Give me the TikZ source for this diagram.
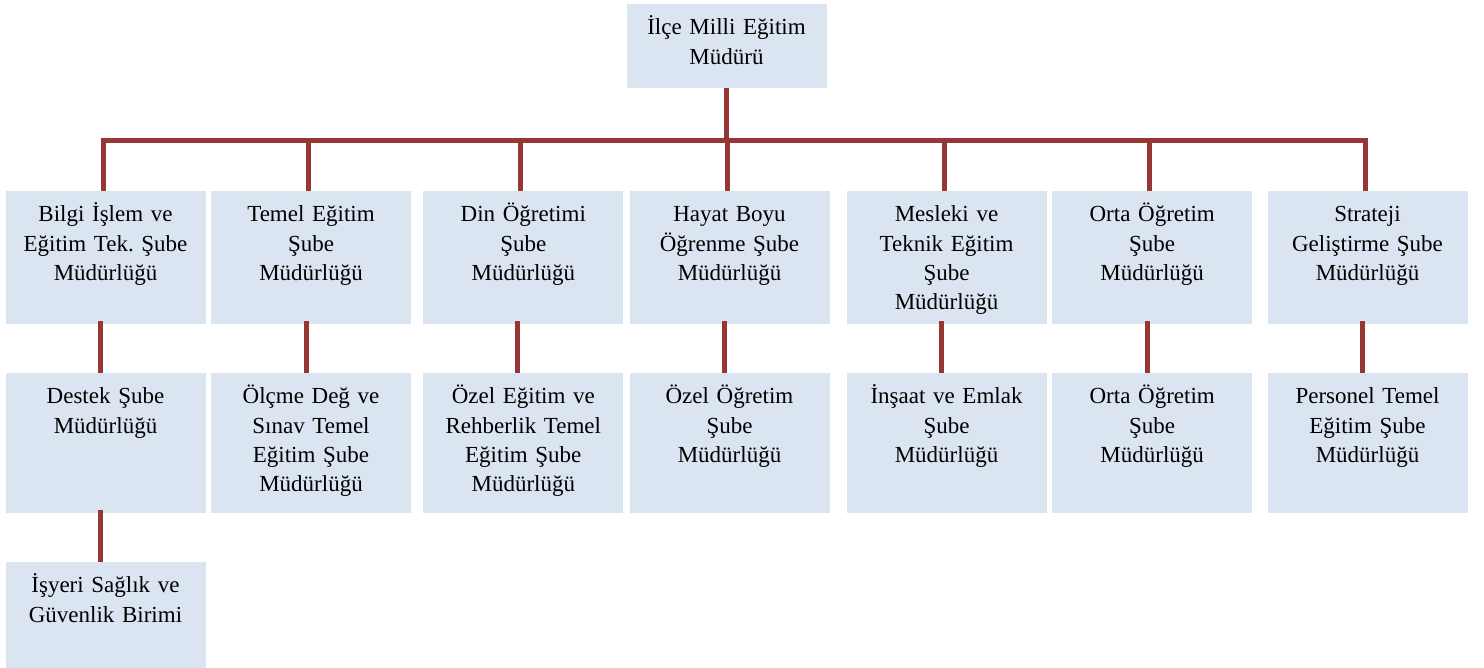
\documentclass[tikz,border=0pt]{standalone}
\usepackage{fontspec}
\setmainfont{Liberation Serif}
\usepackage{xcolor}
\definecolor{boxfill}{HTML}{DBE5F1}
\definecolor{linkred}{HTML}{953735}
\begin{document}
\begin{tikzpicture}[x=0.5pt,y=-0.5pt,
  box/.style={fill=boxfill, minimum width=100pt, inner sep=0pt},
  txt/.style={anchor=north, text width=98pt, align=center, inner sep=0pt, yshift=-5.2pt,
    font=\fontsize{11.5}{14.6}\selectfont\frenchspacing, execute at begin node=\strut},
  link/.style={draw=linkred, line width=2.5pt}]
\useasboundingbox (0,0) rectangle (1484,668);

% boxes
\node [box, minimum height=42pt] (mudur) at (726.5,46) {};
\node [box, minimum height=66.5pt] (bilgi) at (105.5,257.5) {};
\node [box, minimum height=66.5pt] (temel) at (311,257.5) {};
\node [box, minimum height=66.5pt] (din) at (523.3,257.5) {};
\node [box, minimum height=66.5pt] (hayat) at (729.5,257.5) {};
\node [box, minimum height=66.5pt] (mesleki) at (946.5,257.5) {};
\node [box, minimum height=66.5pt] (orta) at (1152.2,257.5) {};
\node [box, minimum height=66.5pt] (strateji) at (1367.5,257.5) {};
\node [box, minimum height=70pt] (destek) at (105.5,443) {};
\node [box, minimum height=70pt] (olcme) at (311,443) {};
\node [box, minimum height=70pt] (ozelegitim) at (523.3,443) {};
\node [box, minimum height=70pt] (ozelogretim) at (729.5,443) {};
\node [box, minimum height=70pt] (insaat) at (946.5,443) {};
\node [box, minimum height=70pt] (ortaalt) at (1152.2,443) {};
\node [box, minimum height=70pt] (personel) at (1367.5,443) {};
\node [box, minimum height=53pt] (isyeri) at (105.5,615) {};

% texts
\node [txt] (mudur-t) at (mudur.north) {İlçe Milli Eğitim\\Müdürü};
\node [txt] (bilgi-t) at (bilgi.north) {Bilgi İşlem ve\\Eğitim Tek. Şube\\Müdürlüğü};
\node [txt] (temel-t) at (temel.north) {Temel Eğitim\\Şube\\Müdürlüğü};
\node [txt] (din-t) at (din.north) {Din Öğretimi\\Şube\\Müdürlüğü};
\node [txt] (hayat-t) at (hayat.north) {Hayat Boyu\\Öğrenme Şube\\Müdürlüğü};
\node [txt] (mesleki-t) at (mesleki.north) {Mesleki ve\\Teknik Eğitim\\Şube\\Müdürlüğü};
\node [txt] (orta-t) at (orta.north) {Orta Öğretim\\Şube\\Müdürlüğü};
\node [txt] (strateji-t) at (strateji.north) {Strateji\\Geliştirme Şube\\Müdürlüğü};
\node [txt] (destek-t) at (destek.north) {Destek Şube\\Müdürlüğü};
\node [txt] (olcme-t) at (olcme.north) {Ölçme Değ ve\\Sınav Temel\\Eğitim Şube\\Müdürlüğü};
\node [txt] (ozelegitim-t) at (ozelegitim.north) {Özel Eğitim ve\\Rehberlik Temel\\Eğitim Şube\\Müdürlüğü};
\node [txt] (ozelogretim-t) at (ozelogretim.north) {Özel Öğretim\\Şube\\Müdürlüğü};
\node [txt] (insaat-t) at (insaat.north) {İnşaat ve Emlak\\Şube\\Müdürlüğü};
\node [txt] (ortaalt-t) at (ortaalt.north) {Orta Öğretim\\Şube\\Müdürlüğü};
\node [txt] (personel-t) at (personel.north) {Personel Temel\\Eğitim Şube\\Müdürlüğü};
\node [txt] (isyeri-t) at (isyeri.north) {İşyeri Sağlık ve\\Güvenlik Birimi};

% connectors
\coordinate (bar) at (726.5,140.5);
\draw [link] (mudur.south) -- (bar);
\draw [link] ([xshift=-1.25pt]bilgi.north) |- (bar) -| ([xshift=-1.25pt]strateji.north);
\draw [link] ([xshift=-1.25pt]temel.north) -- ([xshift=-1.25pt]temel.north |- bar);
\draw [link] ([xshift=-1.25pt]din.north) -- ([xshift=-1.25pt]din.north |- bar);
\draw [link] ([xshift=-1.25pt]hayat.north) -- ([xshift=-1.25pt]hayat.north |- bar);
\draw [link] ([xshift=-1.25pt]mesleki.north) -- ([xshift=-1.25pt]mesleki.north |- bar);
\draw [link] ([xshift=-1.25pt]orta.north) -- ([xshift=-1.25pt]orta.north |- bar);
\draw [link] ([xshift=-2.75pt,yshift=1.5pt]bilgi.south) -- ([xshift=-2.75pt]destek.north);
\draw [link] ([xshift=-2.5pt,yshift=1.5pt]temel.south) -- ([xshift=-2.5pt]olcme.north);
\draw [link] ([xshift=-2.75pt,yshift=1.5pt]din.south) -- ([xshift=-2.75pt]ozelegitim.north);
\draw [link] ([xshift=-2.5pt,yshift=1.5pt]hayat.south) -- ([xshift=-2.5pt]ozelogretim.north);
\draw [link] ([xshift=-2.75pt,yshift=1.5pt]mesleki.south) -- ([xshift=-2.75pt]insaat.north);
\draw [link] ([xshift=-2.5pt,yshift=1.5pt]orta.south) -- ([xshift=-2.5pt]ortaalt.north);
\draw [link] ([xshift=-2.75pt,yshift=1.5pt]strateji.south) -- ([xshift=-2.75pt]personel.north);
\draw [link] ([xshift=-2.75pt,yshift=1.5pt]destek.south) -- ([xshift=-2.75pt]isyeri.north);
\end{tikzpicture}
\end{document}
